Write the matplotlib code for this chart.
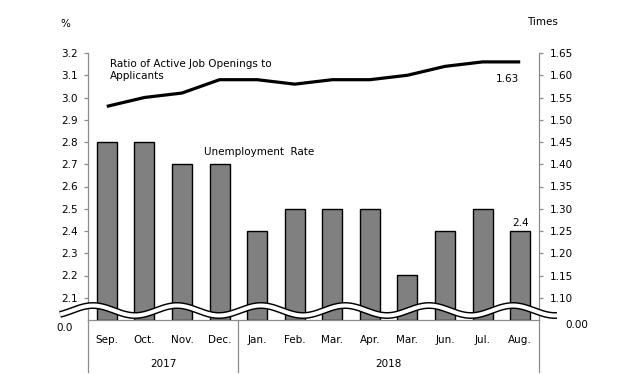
import matplotlib
matplotlib.use("Agg")
import matplotlib.pyplot as plt
import numpy as np

# --- data ---
months = ["Sep.", "Oct.", "Nov.", "Dec.", "Jan.", "Feb.", "Mar.", "Apr.",
          "Mar.", "Jun.", "Jul.", "Aug."]
years = ["2017", "2018"]
year_counts = [4, 8]
unemployment = [2.8, 2.8, 2.7, 2.7, 2.4, 2.5, 2.5, 2.5, 2.2, 2.4, 2.5, 2.4]
job_ratio = [1.53, 1.55, 1.56, 1.59, 1.59, 1.58, 1.59, 1.59, 1.60, 1.62, 1.63, 1.63]
left_ticks = [2.1, 2.2, 2.3, 2.4, 2.5, 2.6, 2.7, 2.8, 2.9, 3.0, 3.1, 3.2]
right_ticks = [1.10, 1.15, 1.20, 1.25, 1.30, 1.35, 1.40, 1.45, 1.50, 1.55, 1.60, 1.65]

W, H = 639, 374
FS = 7.5
GRAY = "#8c8c8c"

fig = plt.figure(figsize=(W / 100, H / 100), dpi=100)
ax = fig.add_axes([88 / W, 1 - 320 / H, (539 - 88) / W, (320 - 53) / H])
ax2 = ax.twinx()

x = np.arange(len(months))
ymin = 2.0
ax.bar(x, np.array(unemployment) - ymin, bottom=ymin, width=0.53,
       color="#808080", edgecolor="black", linewidth=1.0, zorder=2)
ax.set_xlim(-0.5, len(months) - 0.5)
ax.set_ylim(ymin, 3.2)
ax.set_yticks(left_ticks)
ax.set_yticklabels([f"{v:.1f}" for v in left_ticks], fontsize=FS)

ax2.plot(x, job_ratio, color="black", linewidth=2.3, solid_joinstyle="round",
         solid_capstyle="butt", zorder=3)
ax2.set_ylim(1.05, 1.65)
ax2.set_yticks(right_ticks)
ax2.set_yticklabels([f"{v:.2f}" for v in right_ticks], fontsize=FS)

for a in (ax, ax2):
    a.spines["top"].set_visible(False)
    for s in ("left", "right", "bottom"):
        a.spines[s].set_color(GRAY)
        a.spines[s].set_linewidth(0.9)
    a.tick_params(axis="y", length=3, width=0.9, color=GRAY, pad=4.5)
ax.spines["right"].set_visible(False)
ax2.spines["left"].set_visible(False)
ax2.spines["bottom"].set_visible(False)

ax.set_xticks(x)
ax.set_xticklabels(months, fontsize=FS)
ax.tick_params(axis="x", length=0, pad=11)

# year groups under the month labels
start = 0
bounds = [-0.5]
for yr, n in zip(years, year_counts):
    mid = start + (n - 1) / 2
    ax.text(mid, -0.165, yr, transform=ax.get_xaxis_transform(),
            ha="center", va="center", fontsize=FS)
    start += n
    bounds.append(start - 0.5)
for b in bounds:
    ax.plot([b, b], [0, -0.195], transform=ax.get_xaxis_transform(),
            color=GRAY, linewidth=0.9, clip_on=False)

# axis break labels
fig.text(73 / W, 1 - 328 / H, "0.0", ha="right", va="center", fontsize=FS)
fig.text(565 / W, 1 - 325 / H, "0.00", ha="left", va="center", fontsize=FS)
fig.text(60 / W, 1 - 24 / H, "%", ha="left", va="center", fontsize=FS)
fig.text(527 / W, 1 - 22 / H, "Times", ha="left", va="center", fontsize=FS)

# wavy break band
wx = np.linspace(60, 557, 400)
wy = 310.5 - 5 * np.cos(2 * np.pi * (wx - 93) / 84)
fx, fy = wx / W, 1 - wy / H
fig.add_artist(plt.Line2D(fx, fy, color="black", linewidth=5.0,
                          solid_capstyle="butt", zorder=10))
fig.add_artist(plt.Line2D(fx, fy, color="white", linewidth=2.9,
                          solid_capstyle="butt", zorder=11))

# annotations
ax.text(0.08, 3.175, "Ratio of Active Job Openings to\nApplicants",
        ha="left", va="top", fontsize=FS, linespacing=1.35)
ax.text(2.58, 2.757, "Unemployment  Rate", ha="left", va="center", fontsize=FS)
ax2.text(10.65, 1.592, f"{job_ratio[-1]:.2f}", ha="center", va="center", fontsize=FS)
ax.text(11, unemployment[-1] + 0.012, f"{unemployment[-1]:.1f}",
        ha="center", va="bottom", fontsize=FS)

fig.savefig("out.png", dpi=100)
